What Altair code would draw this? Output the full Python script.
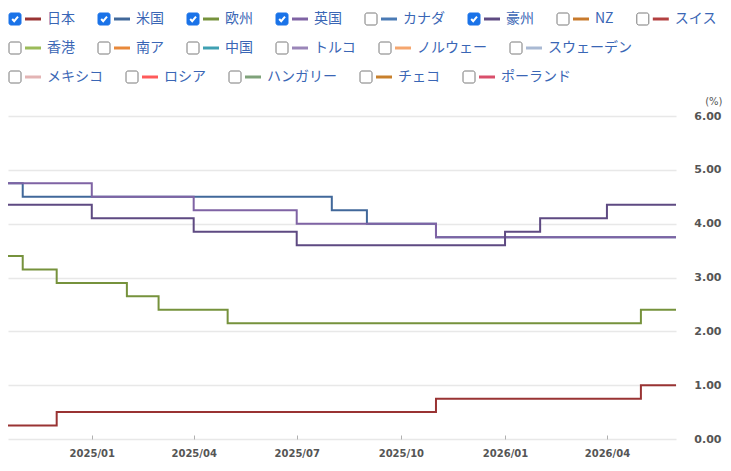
import altair as alt
import pandas as pd

# ---------------- data ----------------
months = ["2024-10", "2024-11", "2024-12", "2025-01", "2025-02", "2025-03", "2025-04",
          "2025-05", "2025-06", "2025-07", "2025-08", "2025-09", "2025-10", "2025-11",
          "2025-12", "2026-01", "2026-02", "2026-03", "2026-04", "2026-05", "2026-06"]

japan = [0.25, 0.25, 0.50, 0.50, 0.50, 0.50, 0.50, 0.50, 0.50, 0.50, 0.50, 0.50, 0.50,
         0.75, 0.75, 0.75, 0.75, 0.75, 0.75, 1.00, 1.00]
usa = [4.75, 4.50, 4.50, 4.50, 4.50, 4.50, 4.50, 4.50, 4.50, 4.50, 4.25, 4.00, 4.00,
       3.75, 3.75, 3.75, 3.75, 3.75, 3.75, 3.75, 3.75]
euro = [3.40, 3.15, 2.90, 2.90, 2.65, 2.40, 2.40, 2.15, 2.15, 2.15, 2.15, 2.15, 2.15,
        2.15, 2.15, 2.15, 2.15, 2.15, 2.15, 2.40, 2.40]
uk = [4.75, 4.75, 4.75, 4.50, 4.50, 4.50, 4.25, 4.25, 4.25, 4.00, 4.00, 4.00, 4.00,
      3.75, 3.75, 3.75, 3.75, 3.75, 3.75, 3.75, 3.75]
aus = [4.35, 4.35, 4.35, 4.10, 4.10, 4.10, 3.85, 3.85, 3.85, 3.60, 3.60, 3.60, 3.60,
       3.60, 3.60, 3.85, 4.10, 4.10, 4.35, 4.35, 4.35]

series_names = ["日本", "米国", "欧州", "英国", "豪州"]
series_values = [japan, usa, euro, uk, aus]

legend_names = ["日本", "米国", "欧州", "英国", "カナダ", "豪州", "NZ", "スイス",
                "香港", "南ア", "中国", "トルコ", "ノルウェー", "スウェーデン",
                "メキシコ", "ロシア", "ハンガリー", "チェコ", "ポーランド"]
legend_checked = [True, True, True, True, False, True, False, False,
                  False, False, False, False, False, False,
                  False, False, False, False, False]
legend_colors = ["#993333", "#41689a", "#76923c", "#7f63a4", "#4a7ab5", "#5e4a82",
                 "#c87a2c", "#b34040", "#9bbb59", "#e8893a", "#3fa0b2", "#9a86b8",
                 "#f5a66e", "#a9b9d3", "#e3b4b4", "#ff5a5a", "#7fa27a", "#c8802c",
                 "#d94f6b"]

x_ticks = ["2025-01", "2025-04", "2025-07", "2025-10", "2026-01", "2026-04"]
y_ticks = [0, 1, 2, 3, 4, 5, 6]

# ---------------- layout constants ----------------
W, H = 668, 323
color_of = dict(zip(legend_names, legend_colors))


def dt(m):
    y, mo = m.split("-")
    return alt.DateTime(year=int(y), month=int(mo), date=1)


x_enc = alt.X(
    "date:T",
    scale=alt.Scale(domain=[alt.DateTime(year=2024, month=10, date=19),
                            alt.DateTime(year=2026, month=6, date=1)]),
    axis=alt.Axis(values=[dt(m) for m in x_ticks], format="%Y/%m", title=None,
                  grid=False, domain=False, ticks=True, tickSize=4, tickColor="#b0b0b0",
                  offset=-4, labelPadding=9, labelFont="DejaVu Sans",
                  labelFontWeight="bold", labelFontSize=10, labelColor="#555555"),
)
y_enc = alt.Y(
    "value:Q",
    scale=alt.Scale(domain=[0, 6], nice=False),
    axis=alt.Axis(orient="right", values=y_ticks, format=".2f", grid=True,
                  gridColor="#e8e8e8", gridWidth=1.5, domain=False, ticks=False,
                  tickSize=0, labelAlign="right", labelBaseline="middle",
                  labelPadding=45, labelFont="DejaVu Sans", labelFontWeight="bold",
                  labelFontSize=11, labelColor="#555555",
                  title="(%)", titleAngle=0, titleX=46, titleY=-15,
                  titleAlign="right", titleBaseline="middle", titleFont="DejaVu Sans",
                  titleFontSize=10, titleFontWeight="normal", titleColor="#555555"),
)

line_layers = []
for name, vals in zip(series_names, series_values):
    df = pd.DataFrame({"date": [m + "-01T00:00:00" for m in months], "value": vals})
    line_layers.append(
        alt.Chart(df).mark_line(interpolate="step-after", strokeWidth=2, clip=True,
                                color=color_of[name])
        .encode(x=x_enc, y=y_enc)
    )
lines = alt.layer(*line_layers)

# ---------------- legend (flow layout from text widths) ----------------
def text_w(s):
    extra = {"N": 10.4, "Z": 8.4}
    return sum(14 if ord(c) > 0x2000 else extra.get(c, 8) for c in s)

row_y = [-97, -68, -39]
rows = []
x0, r = 0.0, 0
for name, chk, col in zip(legend_names, legend_checked, legend_colors):
    w = 39 + text_w(name)
    if x0 > 0 and x0 + w > 715:
        r += 1
        x0 = 0.0
    py = row_y[r]
    rows.append({
        "name": name, "color": col, "checked": chk,
        "bx": x0 + 1, "bx2": x0 + 13, "by": py - 6, "by2": py + 6,
        "cx": x0 + 7, "sx": x0 + 17, "sx2": x0 + 33, "tx": x0 + 39, "py": py,
        "fill": "#1a73e8" if chk else "#ffffff",
        "stroke": "#1a73e8" if chk else "#7a7a7a",
    })
    x0 += w + 22
leg = pd.DataFrame(rows)

boxes = alt.Chart(leg).mark_rect(cornerRadius=2, strokeWidth=1).encode(
    x=alt.X("bx:Q", scale=None, axis=None), x2="bx2:Q",
    y=alt.Y("by:Q", scale=None, axis=None), y2="by2:Q",
    fill=alt.Fill("fill:N", scale=None), stroke=alt.Stroke("stroke:N", scale=None),
)
checks = alt.Chart(leg[leg["checked"]]).mark_point(
    shape="M-0.7,0 L-0.2,0.55 L0.75,-0.6", filled=False, stroke="white",
    strokeWidth=2, size=64, opacity=1,
).encode(
    x=alt.X("cx:Q", scale=None, axis=None), y=alt.Y("py:Q", scale=None, axis=None),
)
swatches = alt.Chart(leg).mark_rule(strokeWidth=3).encode(
    x=alt.X("sx:Q", scale=None, axis=None), x2="sx2:Q",
    y=alt.Y("py:Q", scale=None, axis=None),
    color=alt.Color("color:N", scale=None),
)
labels = alt.Chart(leg).mark_text(align="left", baseline="middle",
                                  font="Noto Sans CJK JP", fontSize=14,
                                  color="#3a66b5").encode(
    x=alt.X("tx:Q", scale=None, axis=None), y=alt.Y("py:Q", scale=None, axis=None),
    text="name:N",
)
legend = alt.layer(boxes, checks, swatches, labels)

chart = (
    alt.layer(lines, legend)
    .resolve_scale(x="independent", y="independent")
    .properties(width=W, height=H,
                autosize=alt.AutoSizeParams(type="none"),
                padding={"left": 0, "top": 108, "right": 47, "bottom": 19})
    .configure_view(strokeWidth=0)
)

chart.save("out.html", embed_options={"renderer": "svg", "actions": False})
